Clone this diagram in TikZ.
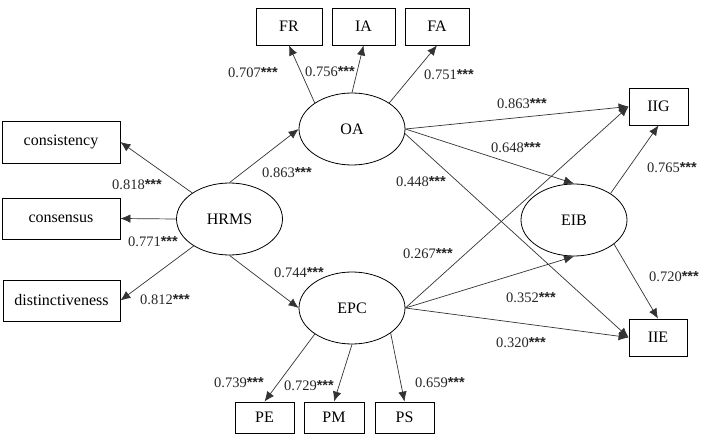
\documentclass[tikz,border=0pt]{standalone}
\usepackage{fontspec}
\setmainfont{Liberation Serif}
\newfontfamily\starfont{Liberation Sans}
\usepackage{tikz}
\usetikzlibrary{shapes.geometric}
\usetikzlibrary{arrows.meta}
\newcommand{\stars}{{\starfont\bfseries ***}}

\begin{document}
\begin{tikzpicture}[x=1pt,y=-1pt,
    var/.style={draw,rectangle,inner sep=0pt,line width=0.8pt,font=\fontsize{16}{18}\selectfont},
    lat/.style={draw,ellipse,inner sep=0pt,line width=0.8pt,minimum width=106pt,minimum height=72pt,font=\fontsize{16}{18}\selectfont},
    path/.style={-{Latex[length=10pt,width=8.5pt]},line width=0.7pt,black!80},
    coef/.style={inner sep=0pt,text=black!85,font=\fontsize{14.5}{16}\selectfont}]
        \useasboundingbox (0, 0) rectangle (706, 438);

        % Latent variables
        \node [lat] (HRMS) at (229.5, 219) {HRMS};
        \node [lat] (OA) at (352, 129) {OA};
        \node [lat] (EPC) at (352, 308) {EPC};
        \node [lat] (EIB) at (574, 220) {EIB};

        % Indicators
        \node [var, minimum width=118pt, minimum height=42pt] (cst) at (61, 142) {consistency};
        \node [var, minimum width=118pt, minimum height=41pt] (csn) at (61, 218.5) {consensus};
        \node [var, minimum width=117pt, minimum height=41pt] (dst) at (61.5, 300.5) {distinctiveness};
        \node [var, minimum width=66pt, minimum height=37pt] (FR) at (289, 26.5) {FR};
        \node [var, minimum width=63pt, minimum height=37pt] (IA) at (363.5, 26.5) {IA};
        \node [var, minimum width=64pt, minimum height=37pt] (FA) at (437, 26.5) {FA};
        \node [var, minimum width=59pt, minimum height=37pt] (IIG) at (658.5, 106.5) {IIG};
        \node [var, minimum width=58pt, minimum height=37pt] (IIE) at (658, 337.5) {IIE};
        \node [var, minimum width=59pt, minimum height=31pt] (PE) at (264.5, 417.5) {PE};
        \node [var, minimum width=60pt, minimum height=31pt] (PM) at (334, 417.5) {PM};
        \node [var, minimum width=59pt, minimum height=31pt] (PS) at (404.5, 417.5) {PS};

        % Paths
        \draw [path] (HRMS.145) -- (cst.east);
        \draw [path] (HRMS.west) -- (csn.east);
        \draw [path] (HRMS.217) -- (dst.east);
        \draw [path] (HRMS.north) -- (OA.west);
        \draw [path] (HRMS.south) -- (EPC.west);
        \draw [path] (OA.145) -- (FR.south);
        \draw [path] (OA.north) -- (IA.south);
        \draw [path] (OA.35) -- (FA.south);
        \draw [path] (OA.east) -- (IIG.west);
        \draw [path] (OA.east) -- (EIB.north);
        \draw [path] (OA.-5) -- (IIE.west);
        \draw [path] (EPC.east) -- (IIG.west);
        \draw [path] (EPC.east) -- (EIB.south);
        \draw [path] (EPC.east) -- (IIE.west);
        \draw [path] (EPC.215) -- (PE.north);
        \draw [path] (EPC.south) -- (PM.north);
        \draw [path] (EPC.327) -- (PS.north);
        \draw [path] (EIB.36) -- (IIG.south);
        \draw [path] (EIB.329) -- (IIE.north);

        % Coefficients
        \node [coef] (c1) at (137, 185) {0.818\stars};
        \node [coef] (c2) at (153, 242) {0.771\stars};
        \node [coef] (c3) at (165, 300) {0.812\stars};
        \node [coef] (c4) at (287, 173) {0.863\stars};
        \node [coef] (c5) at (299, 273) {0.744\stars};
        \node [coef] (c6) at (253, 73) {0.707\stars};
        \node [coef] (c7) at (330, 72) {0.756\stars};
        \node [coef] (c8) at (449, 75) {0.751\stars};
        \node [coef] (c9) at (522, 104) {0.863\stars};
        \node [coef] (c10) at (516, 148) {0.648\stars};
        \node [coef] (c11) at (421, 182) {0.448\stars};
        \node [coef] (c12) at (672, 168) {0.765\stars};
        \node [coef] (c13) at (428, 254) {0.267\stars};
        \node [coef] (c14) at (531, 298) {0.352\stars};
        \node [coef] (c15) at (521, 343) {0.320\stars};
        \node [coef] (c16) at (674, 277) {0.720\stars};
        \node [coef] (c17) at (239, 383) {0.739\stars};
        \node [coef] (c18) at (309, 386) {0.729\stars};
        \node [coef] (c19) at (440, 383) {0.659\stars};
      \end{tikzpicture}
\end{document}
